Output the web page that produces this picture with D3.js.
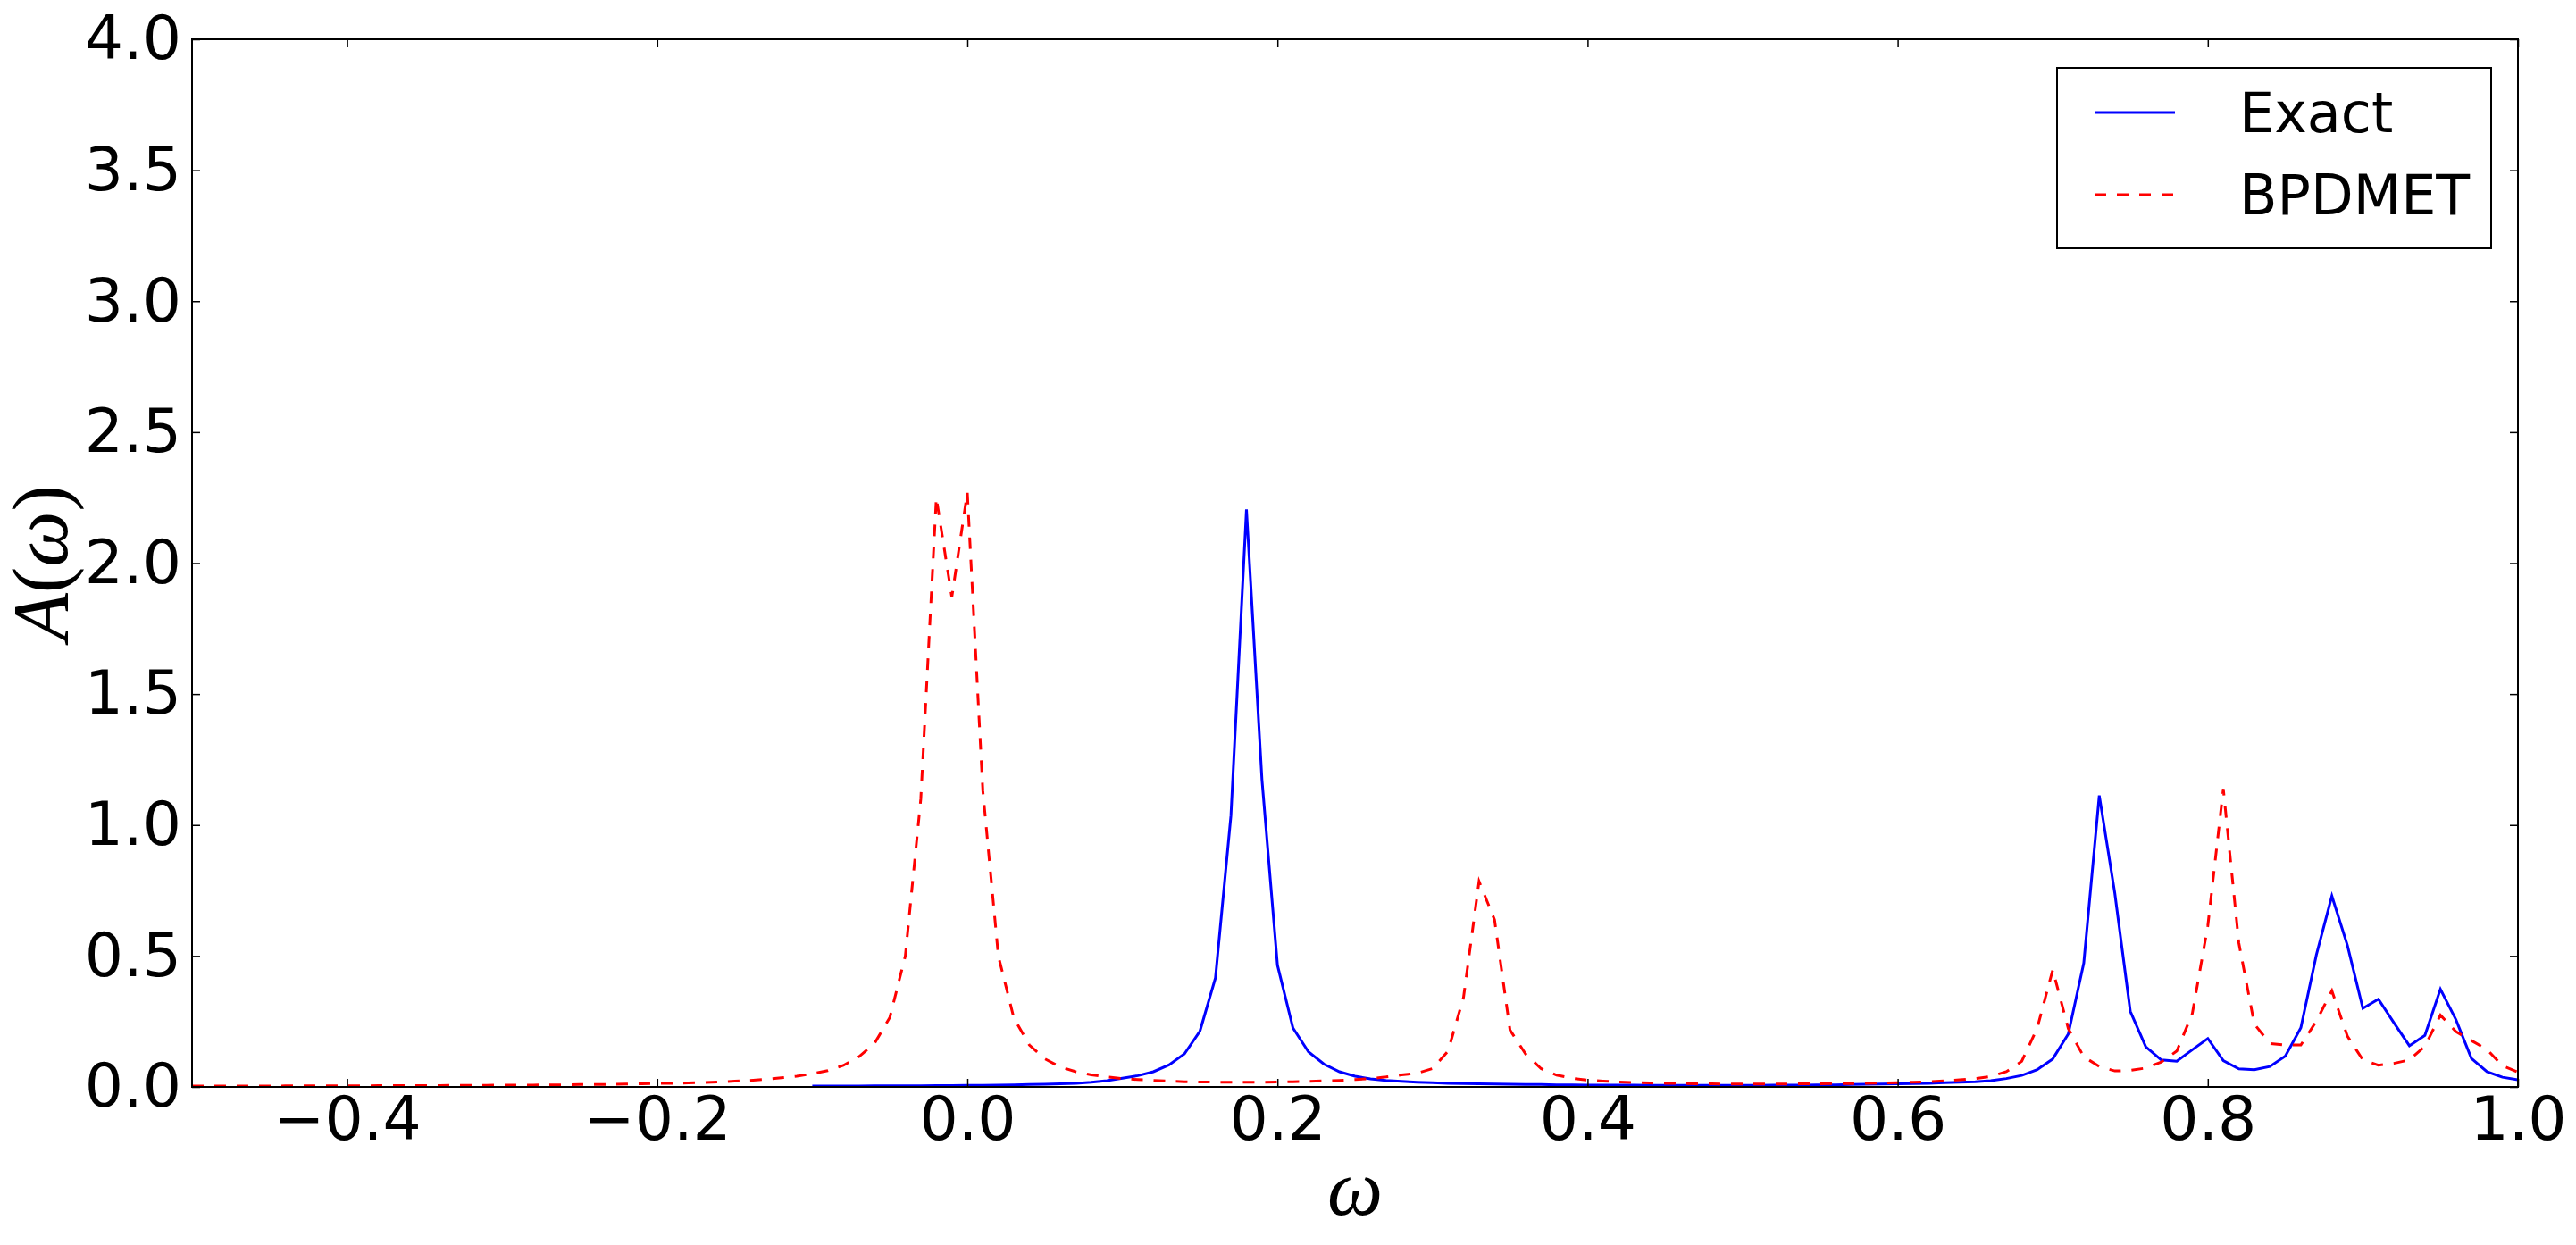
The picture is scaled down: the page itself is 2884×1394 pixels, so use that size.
<!DOCTYPE html>
<html>
<head>
<meta charset="utf-8">
<script src="https://cdn.jsdelivr.net/npm/d3@7"></script>
<style>
  body { margin: 0; background: #fff; }
  svg { display: block; }
</style>
</head>
<body>
<div id="chart"></div>
<script>
// sampling grid of both curves (omega step 0.01)
const step = 0.01;
const exactStart = -0.1;
const bpdmetStart = -0.5;

// Exact, omega = -0.10 ... 1.00
const exactValues = [
  0.003, 0.003, 0.003, 0.003, 0.004, 0.004, 0.004, 0.004, 0.005, 0.005,
  0.006, 0.006, 0.007, 0.008, 0.009, 0.010, 0.012, 0.014, 0.018, 0.024,
  0.033, 0.043, 0.058, 0.084, 0.126, 0.213, 0.416, 1.036, 2.205, 1.173,
  0.465, 0.225, 0.134, 0.087, 0.058, 0.041, 0.031, 0.025, 0.021, 0.018,
  0.016, 0.014, 0.013, 0.012, 0.011, 0.010, 0.009, 0.009, 0.008, 0.008,
  0.007, 0.007, 0.007, 0.007, 0.006, 0.006, 0.006, 0.006, 0.006, 0.006,
  0.006, 0.006, 0.007, 0.007, 0.007, 0.008, 0.008, 0.009, 0.010, 0.011,
  0.012, 0.013, 0.014, 0.016, 0.018, 0.020, 0.024, 0.032, 0.044, 0.066,
  0.107, 0.202, 0.473, 1.113, 0.740, 0.289, 0.153, 0.103, 0.098, 0.142,
  0.185, 0.100, 0.069, 0.066, 0.078, 0.118, 0.226, 0.504, 0.729, 0.541,
  0.300, 0.335, 0.245, 0.157, 0.197, 0.373, 0.257, 0.109, 0.058, 0.037,
  0.027
];

// BPDMET, omega = -0.50 ... 1.00
const bpdmetValues = [
  0.003, 0.003, 0.003, 0.003, 0.003, 0.003, 0.004, 0.004, 0.004, 0.004,
  0.004, 0.004, 0.005, 0.005, 0.005, 0.005, 0.005, 0.006, 0.006, 0.006,
  0.007, 0.007, 0.007, 0.008, 0.008, 0.009, 0.009, 0.010, 0.011, 0.012,
  0.013, 0.014, 0.015, 0.017, 0.019, 0.022, 0.025, 0.029, 0.035, 0.041,
  0.050, 0.062, 0.082, 0.115, 0.165, 0.265, 0.500, 1.100, 2.250, 1.870,
  2.270, 1.130, 0.500, 0.263, 0.160, 0.107, 0.076, 0.058, 0.046, 0.038,
  0.032, 0.028, 0.025, 0.022, 0.020, 0.019, 0.018, 0.018, 0.018, 0.018,
  0.019, 0.020, 0.021, 0.023, 0.025, 0.028, 0.032, 0.038, 0.046, 0.052,
  0.070, 0.137, 0.342, 0.785, 0.638, 0.217, 0.126, 0.070, 0.045, 0.033,
  0.026, 0.022, 0.019, 0.017, 0.015, 0.014, 0.013, 0.012, 0.012, 0.011,
  0.011, 0.011, 0.011, 0.011, 0.012, 0.012, 0.013, 0.013, 0.014, 0.015,
  0.016, 0.018, 0.020, 0.023, 0.027, 0.032, 0.040, 0.058, 0.098, 0.225,
  0.447, 0.223, 0.115, 0.078, 0.061, 0.063, 0.072, 0.095, 0.137, 0.280,
  0.615, 1.138, 0.550, 0.240, 0.166, 0.160, 0.160, 0.251, 0.367, 0.194,
  0.103, 0.083, 0.090, 0.103, 0.155, 0.274, 0.211, 0.177, 0.143, 0.081,
  0.056
];

const xTicks = [-0.4, -0.2, 0.0, 0.2, 0.4, 0.6, 0.8, 1.0];
const yTicks = [0.0, 0.5, 1.0, 1.5, 2.0, 2.5, 3.0, 3.5, 4.0];
const seriesNames = ["Exact", "BPDMET"];

function drawChart() {
    const W = 2884, H = 1394;
    const margin = { top: 44, right: 65, bottom: 177, left: 215 };
    const width = W - margin.left - margin.right;
    const height = H - margin.top - margin.bottom;

    d3.select("#chart").html("");

    const svg = d3.select("#chart").append("svg")
        .attr("width", W)
        .attr("height", H);

    const g = svg.append("g")
        .attr("transform", `translate(${margin.left}, ${margin.top})`);

    const x = d3.scaleLinear().domain([-0.5, 1.0]).range([0, width]);
    const y = d3.scaleLinear().domain([0, 4.0]).range([height, 0]);

    g.append("clipPath").attr("id", "plotClip")
        .append("rect").attr("width", width).attr("height", height);

    const exactData = exactValues.map((v, i) => ({ w: exactStart + i * step, a: v }));
    const bpdmetData = bpdmetValues.map((v, i) => ({ w: bpdmetStart + i * step, a: v }));

    const line = d3.line().x(d => x(d.w)).y(d => y(d.a));

    const plot = g.append("g").attr("clip-path", "url(#plotClip)");
    plot.append("path").datum(exactData)
        .attr("d", line)
        .attr("fill", "none")
        .attr("stroke", "#0000ff")
        .attr("stroke-width", 3);
    plot.append("path").datum(bpdmetData)
        .attr("d", line)
        .attr("fill", "none")
        .attr("stroke", "#ff0000")
        .attr("stroke-width", 3)
        .attr("stroke-dasharray", "13,12");

    const fmt = d3.format(".1f");

    // bottom + left axes with labels, ticks pointing inwards
    const xAxis = g.append("g")
        .attr("transform", `translate(0, ${height})`)
        .call(d3.axisBottom(x).tickValues(xTicks).tickFormat(fmt)
            .tickSizeInner(-9).tickSizeOuter(0).tickPadding(11));
    const yAxis = g.append("g")
        .call(d3.axisLeft(y).tickValues(yTicks).tickFormat(fmt)
            .tickSizeInner(-9).tickSizeOuter(0).tickPadding(12));

    // top + right ticks only
    const xTop = g.append("g")
        .call(d3.axisTop(x).tickValues(xTicks).tickFormat("")
            .tickSizeInner(-9).tickSizeOuter(0));
    const yRight = g.append("g")
        .attr("transform", `translate(${width}, 0)`)
        .call(d3.axisRight(y).tickValues(yTicks).tickFormat("")
            .tickSizeInner(-9).tickSizeOuter(0));

    [xAxis, yAxis, xTop, yRight].forEach(a => {
        a.select(".domain").remove();
        a.selectAll(".tick line").attr("stroke", "#000").attr("stroke-width", 1.5);
        a.selectAll("text")
            .attr("fill", "#000")
            .style("font-family", "'DejaVu Sans', sans-serif")
            .style("font-size", "68px");
    });

    // frame
    g.append("rect")
        .attr("width", width).attr("height", height)
        .attr("fill", "none")
        .attr("stroke", "#000")
        .attr("stroke-width", 2);

    // axis labels
    svg.append("text")
        .attr("x", margin.left + width / 2)
        .attr("y", 1360)
        .attr("text-anchor", "middle")
        .style("font-family", "'Liberation Serif', serif")
        .style("font-size", "88px")
        .style("font-style", "italic")
        .text("ω");

    const yl = svg.append("text")
        .attr("transform", `translate(75, ${margin.top + height / 2}) rotate(-90)`)
        .attr("text-anchor", "middle")
        .style("font-family", "'Liberation Serif', serif")
        .style("font-size", "88px");
    yl.append("tspan").style("font-style", "italic").text("A");
    yl.append("tspan").text("(");
    yl.append("tspan").style("font-style", "italic").text("ω");
    yl.append("tspan").text(")");

    // legend
    const lg = svg.append("g");
    lg.append("rect")
        .attr("x", 2303).attr("y", 76)
        .attr("width", 486).attr("height", 202)
        .attr("fill", "#fff")
        .attr("stroke", "#000")
        .attr("stroke-width", 2);
    const legendStyles = [
        { color: "#0000ff", dash: null },
        { color: "#ff0000", dash: "13,12" }
    ];
    seriesNames.forEach((name, i) => {
        const cy = 126 + i * 92;
        const l = lg.append("line")
            .attr("x1", 2345).attr("x2", 2435)
            .attr("y1", cy).attr("y2", cy)
            .attr("stroke", legendStyles[i].color)
            .attr("stroke-width", 3);
        if (legendStyles[i].dash) l.attr("stroke-dasharray", legendStyles[i].dash);
        lg.append("text")
            .attr("x", 2507)
            .attr("y", cy + 22)
            .style("font-family", "'DejaVu Sans', sans-serif")
            .style("font-size", "62px")
            .text(name);
    });
}

drawChart();
</script>
</body>
</html>
